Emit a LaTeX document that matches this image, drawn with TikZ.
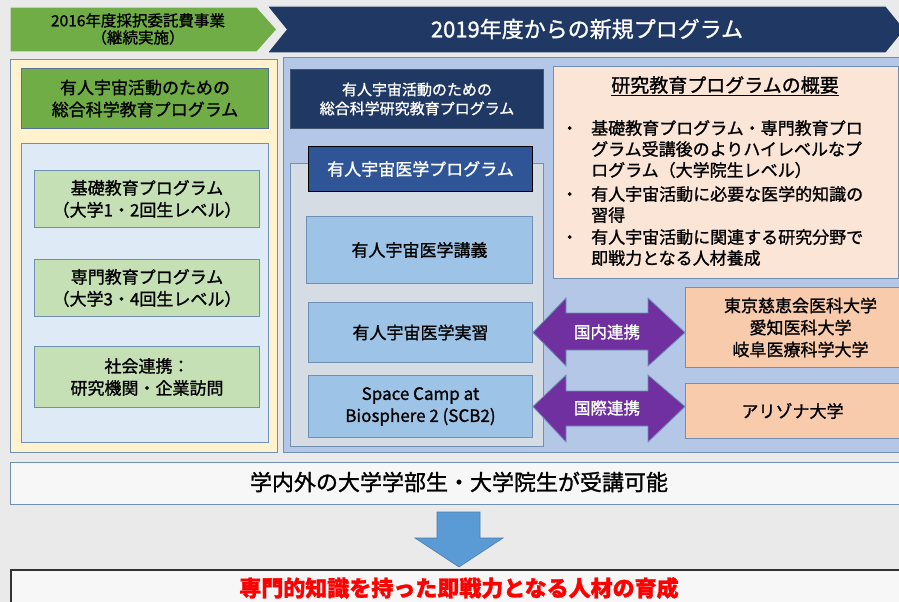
\documentclass[tikz,border=0pt]{standalone}
\usepackage{fontspec}
\setmainfont{Noto Sans CJK JP}[FakeBold=1.2]
\usetikzlibrary{positioning}
\definecolor{bgc}{HTML}{EAEAEA}
\definecolor{navy}{HTML}{203864}
\definecolor{hgreen}{HTML}{70AD47}
\definecolor{lgreen}{HTML}{C5E0B4}
\definecolor{yellowp}{HTML}{FFF2CC}
\definecolor{lblue}{HTML}{DEEBF7}
\definecolor{bluep}{HTML}{B4C7E7}
\definecolor{grayp}{HTML}{D6DCE4}
\definecolor{midblue}{HTML}{2F5597}
\definecolor{skyb}{HTML}{9DC3E6}
\definecolor{peach}{HTML}{FBE5D6}
\definecolor{orangep}{HTML}{F8CBAD}
\definecolor{purp}{HTML}{7030A0}
\definecolor{arrowb}{HTML}{5B9BD5}
\definecolor{edgeb}{HTML}{6F8FB5}
\definecolor{redt}{HTML}{FF0000}
\tikzset{
  panel/.style={draw=edgeb, line width=1.2pt, inner sep=0pt, anchor=north west},
  box/.style={draw=edgeb, line width=1pt, inner sep=0pt, align=center, anchor=north west, font=\fontsize{17}{22}\selectfont},
  chev/.style={draw=white!85!gray, line width=1.2pt},
  dbl/.style={fill=purp, draw=edgeb, line width=0.8pt},
  wtext/.style={text=white, font=\fontsize{16.5}{20}\selectfont},
}
\begin{document}
\begin{tikzpicture}[x=1pt,y=-1pt]
\fill[bgc] (0,0) rectangle (899,602);
\useasboundingbox (0,0) rectangle (899,602);
\clip (0,0) rectangle (899,602);
% header chevrons
\draw[chev, fill=hgreen] (10,7) -- (257,7) -- (277,29.5) -- (257,52) -- (10,52) -- cycle;
\node[align=center, font=\fontsize{15.5}{17}\selectfont] (h1) at (138,29) {2016年度採択委託費事業\\（継続実施）};
\draw[chev, fill=navy] (267,6) -- (886,6) -- (905,29.5) -- (886,53) -- (267,53) -- (286,29.5) -- cycle;
\node[text=white, font=\fontsize{22}{24}\selectfont] (h2) at (587,29) {2019年度からの新規プログラム};
% left panel
\node[panel, fill=yellowp, minimum width=267pt, minimum height=393pt] (lp) at (10,59) {};
\node[box, fill=hgreen, draw=edgeb!80!black, minimum width=247pt, minimum height=60pt] (lt) at (21,68) {有人宇宙活動のための\\総合科学教育プログラム};
\node[panel, fill=lblue, line width=1pt, minimum width=247pt, minimum height=299pt] (lin) at (21,143) {};
\node[box, fill=lgreen, minimum width=225pt, minimum height=57pt] (k1) at (34,170) {基礎教育プログラム\\（大学1・2回生レベル）};
\node[box, fill=lgreen, minimum width=225pt, minimum height=57pt] (k2) at (34,259) {専門教育プログラム\\（大学3・4回生レベル）};
\node[box, fill=lgreen, minimum width=225pt, minimum height=61pt] (k3) at (34,346) {社会連携：\\研究機関・企業訪問};
% right panel
\node[panel, fill=bluep, minimum width=625pt, minimum height=395pt] (rp) at (283,57) {};
\node[box, fill=navy, draw=edgeb!60!black, text=white, font=\fontsize{15}{19}\selectfont, minimum width=253pt, minimum height=59pt] (rt) at (290,69) {有人宇宙活動のための\\総合科学研究教育プログラム};
\node[panel, fill=peach, line width=1pt, minimum width=345pt, minimum height=212pt] (sum) at (553,66) {};
\node[font=\fontsize{19}{22}\selectfont] (st) at (725,86) {\underline{研究教育プログラムの概要}};
\node[anchor=north west, align=left, font=\fontsize{17}{21}\selectfont, inner sep=0pt] (sl) at (561,120) {%
\makebox[30pt][l]{・}基礎教育プログラム・専門教育プロ\\
\hspace*{30pt}グラム受講後のよりハイレベルなプ\\
\hspace*{30pt}ログラム（大学院生レベル）\\[3pt]
\makebox[30pt][l]{・}有人宇宙活動に必要な医学的知識の\\
\hspace*{30pt}習得\\[1pt]
\makebox[30pt][l]{・}有人宇宙活動に関連する研究分野で\\
\hspace*{30pt}即戦力となる人材養成};
\node[panel, fill=grayp, line width=1pt, minimum width=253pt, minimum height=283pt] (rin) at (290,163) {};
\node[box, fill=midblue, draw=black, text=white, minimum width=224pt, minimum height=45pt] (mt) at (308,146) {有人宇宙医学プログラム};
\node[box, fill=skyb, minimum width=226pt, minimum height=67pt] (m1) at (306,216) {有人宇宙医学講義};
\node[box, fill=skyb, minimum width=224pt, minimum height=60pt] (m2) at (308,302) {有人宇宙医学実習};
\node[box, fill=skyb, minimum width=224pt, minimum height=62pt] (m3) at (308,375) {Space Camp at\\Biosphere 2 (SCB2)};
\node[box, fill=orangep, minimum width=230pt, minimum height=80pt] (u1) at (685,287) {東京慈恵会医科大学\\愛知医科大学\\岐阜医療科学大学};
\node[box, fill=orangep, minimum width=230pt, minimum height=55pt] (u2) at (685,383) {\hspace*{-16pt}アリゾナ大学};
% double arrows
\draw[dbl] (m2.east) -- (566,298) -- (566,313) -- (648,313) -- (648,298) -- (u1.west |- m2.east) -- (648,366) -- (648,350) -- (566,350) -- (566,366) -- cycle;
\node[wtext] (a1) at (607,332) {国内連携};
\draw[dbl] (m3.east) -- (566,375) -- (566,391) -- (648,391) -- (648,375) -- (u2.west |- m3.east) -- (648,442) -- (648,426) -- (566,426) -- (566,442) -- cycle;
\node[wtext] (a2) at (607,408) {国際連携};
% bottom
\node[panel, fill=white!60!bgc, minimum width=900pt, minimum height=42pt] (wb) at (10,462) {};
\node[font=\fontsize{22}{24}\selectfont] (wt) at (459,482) {学内外の大学学部生・大学院生が受講可能};
\coordinate (atop) at (459,512);
\coordinate (atip) at (459,567);
\draw[fill=arrowb, draw=arrowb!80!black, line width=0.6pt] (437,512) -- (480,512) -- (480,538) -- (503,538) -- (atip) -- (415,538) -- (437,538) -- cycle;
\node[draw=black!80, line width=1.5pt, fill=white!60!bgc, anchor=north west, minimum width=900pt, minimum height=45pt, inner sep=0pt] (rb) at (10,569) {};
\node[text=redt, font=\bfseries\fontsize{22}{24}\selectfont] (rt2) at (459,588) {専門的知識を持った即戦力となる人材の育成};
\end{tikzpicture}
\end{document}
